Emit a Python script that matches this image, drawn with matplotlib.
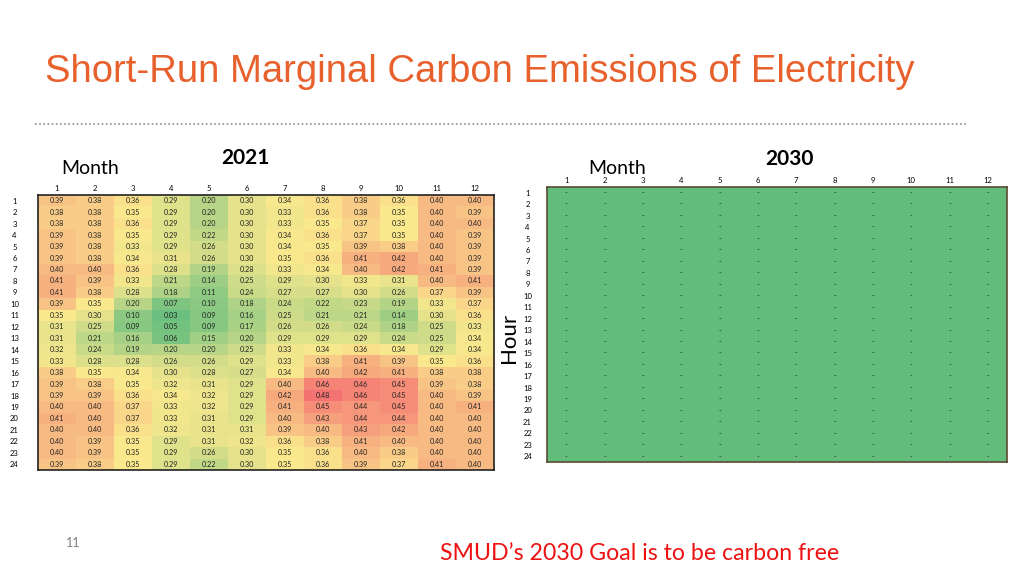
import numpy as np
import matplotlib
matplotlib.use("Agg")
import matplotlib.pyplot as plt
from matplotlib.colors import LinearSegmentedColormap, TwoSlopeNorm

months = [str(m) for m in range(1, 13)]
hours = [str(h) for h in range(1, 25)]

emissions_2021 = [
    [0.39, 0.38, 0.36, 0.29, 0.20, 0.30, 0.34, 0.36, 0.38, 0.36, 0.40, 0.40],
    [0.38, 0.38, 0.35, 0.29, 0.20, 0.30, 0.33, 0.36, 0.38, 0.35, 0.40, 0.39],
    [0.38, 0.38, 0.36, 0.29, 0.20, 0.30, 0.33, 0.35, 0.37, 0.35, 0.40, 0.40],
    [0.39, 0.38, 0.35, 0.29, 0.22, 0.30, 0.34, 0.36, 0.37, 0.35, 0.40, 0.39],
    [0.39, 0.38, 0.33, 0.29, 0.26, 0.30, 0.34, 0.35, 0.39, 0.38, 0.40, 0.39],
    [0.39, 0.38, 0.34, 0.31, 0.26, 0.30, 0.35, 0.36, 0.41, 0.42, 0.40, 0.39],
    [0.40, 0.40, 0.36, 0.28, 0.19, 0.28, 0.33, 0.34, 0.40, 0.42, 0.41, 0.39],
    [0.41, 0.39, 0.33, 0.21, 0.14, 0.25, 0.29, 0.30, 0.33, 0.31, 0.40, 0.41],
    [0.41, 0.38, 0.28, 0.18, 0.11, 0.24, 0.27, 0.27, 0.30, 0.26, 0.37, 0.39],
    [0.39, 0.35, 0.20, 0.07, 0.10, 0.18, 0.24, 0.22, 0.23, 0.19, 0.33, 0.37],
    [0.35, 0.30, 0.10, 0.03, 0.09, 0.16, 0.25, 0.21, 0.21, 0.14, 0.30, 0.36],
    [0.31, 0.25, 0.09, 0.05, 0.09, 0.17, 0.26, 0.26, 0.24, 0.18, 0.25, 0.33],
    [0.31, 0.21, 0.16, 0.06, 0.15, 0.20, 0.29, 0.29, 0.29, 0.24, 0.25, 0.34],
    [0.32, 0.24, 0.19, 0.20, 0.20, 0.25, 0.33, 0.34, 0.36, 0.34, 0.29, 0.34],
    [0.33, 0.28, 0.28, 0.26, 0.26, 0.29, 0.33, 0.38, 0.41, 0.39, 0.35, 0.36],
    [0.38, 0.35, 0.34, 0.30, 0.28, 0.27, 0.34, 0.40, 0.42, 0.41, 0.38, 0.38],
    [0.39, 0.38, 0.35, 0.32, 0.31, 0.29, 0.40, 0.46, 0.46, 0.45, 0.39, 0.38],
    [0.39, 0.39, 0.36, 0.34, 0.32, 0.29, 0.42, 0.48, 0.46, 0.45, 0.40, 0.39],
    [0.40, 0.40, 0.37, 0.33, 0.32, 0.29, 0.41, 0.45, 0.44, 0.45, 0.40, 0.41],
    [0.41, 0.40, 0.37, 0.33, 0.31, 0.29, 0.40, 0.43, 0.44, 0.44, 0.40, 0.40],
    [0.40, 0.40, 0.36, 0.32, 0.31, 0.31, 0.39, 0.40, 0.43, 0.42, 0.40, 0.40],
    [0.40, 0.39, 0.35, 0.29, 0.31, 0.32, 0.36, 0.38, 0.41, 0.40, 0.40, 0.40],
    [0.40, 0.39, 0.35, 0.29, 0.26, 0.30, 0.35, 0.36, 0.40, 0.38, 0.40, 0.40],
    [0.39, 0.38, 0.35, 0.29, 0.22, 0.30, 0.35, 0.36, 0.39, 0.37, 0.41, 0.40],
]
# 2030: carbon free -> all zero, shown as "-"
emissions_2030 = [[0.0] * 12 for _ in range(24)]

data21 = np.array(emissions_2021)
data30 = np.array(emissions_2030)

cmap = LinearSegmentedColormap.from_list(
    "excel3", ["#6CC07F", "#FBE98E", "#F47272"])
norm = TwoSlopeNorm(vmin=data21.min(), vcenter=np.percentile(data21, 50),
                    vmax=data21.max())

fig = plt.figure(figsize=(10.24, 5.76), dpi=100)
fig.patch.set_facecolor("white")

# Title
fig.text(45 / 1024, 1 - 72 / 576, "Short-Run Marginal Carbon Emissions of Electricity",
         fontsize=27.5, color="#E8602C", family="Liberation Sans",
         ha="left", va="center")
# dotted separator
fig.add_artist(plt.Line2D([35 / 1024, 968 / 1024], [1 - 124 / 576, 1 - 124 / 576],
                          color="#8C8C8C", lw=1.2, ls=(0, (1, 1.5))))

font_cells = "Lato"


def setup_axes(ax, nrows, ncols, edge, ypad):
    ax.set_xticks(np.arange(ncols))
    ax.set_xticklabels(months, fontsize=5.5, family=font_cells)
    ax.set_yticks(np.arange(nrows))
    ax.set_yticklabels(hours, fontsize=5.5, family=font_cells)
    for lab in ax.get_yticklabels():
        lab.set_horizontalalignment("center")
    ax.xaxis.tick_top()
    ax.tick_params(axis="x", length=0, pad=2)
    ax.tick_params(axis="y", length=0, pad=ypad)
    for s in ax.spines.values():
        s.set_color(edge)
        s.set_linewidth(1.2)


# 2021 heatmap
ax1 = fig.add_axes([38 / 1024, 1 - 470 / 576, 456 / 1024, 275 / 576])
ax1.imshow(data21, cmap=cmap, norm=norm, aspect="auto", interpolation="nearest")
setup_axes(ax1, 24, 12, "#222222", 17)
for i in range(data21.shape[0]):
    for j in range(data21.shape[1]):
        ax1.text(j, i, f"{data21[i, j]:.2f}", ha="center", va="center",
                 fontsize=5.2, color="#222222", family=font_cells)

# 2030 heatmap
ax2 = fig.add_axes([547 / 1024, 1 - 462 / 576, 460 / 1024, 275 / 576])
green = LinearSegmentedColormap.from_list("g", ["#62BD7A", "#62BD7A"])
ax2.imshow(data30, cmap=green, aspect="auto", interpolation="nearest")
setup_axes(ax2, 24, 12, "#5A4A30", 14)
for i in range(data30.shape[0]):
    for j in range(data30.shape[1]):
        ax2.text(j, i, "-" if data30[i, j] == 0 else f"{data30[i, j]:.2f}",
                 ha="center", va="center", fontsize=5.2, color="#222222",
                 family=font_cells)

# Headings
fig.text(90 / 1024, 1 - 169 / 576, "Month", fontsize=14, family=font_cells,
         ha="center", va="center")
fig.text(245 / 1024, 1 - 158 / 576, "2021", fontsize=15, fontweight="bold",
         family=font_cells, ha="center", va="center")
fig.text(617 / 1024, 1 - 168 / 576, "Month", fontsize=14, family=font_cells,
         ha="center", va="center")
fig.text(789 / 1024, 1 - 159 / 576, "2030", fontsize=15, fontweight="bold",
         family=font_cells, ha="center", va="center")
fig.text(509 / 1024, 1 - 338 / 576, "Hour", fontsize=16, family=font_cells,
         rotation=90, ha="center", va="center")

# Footer
fig.text(73 / 1024, 1 - 543 / 576, "11", fontsize=9, color="#7F7F7F",
         family=font_cells, ha="center", va="center")
fig.text(640 / 1024, 1 - 553 / 576, "SMUD\u2019s 2030 Goal is to be carbon free",
         fontsize=16.7, color="#EE1111", family=font_cells, ha="center", va="center")

fig.savefig("out.png", dpi=100, facecolor="white")
